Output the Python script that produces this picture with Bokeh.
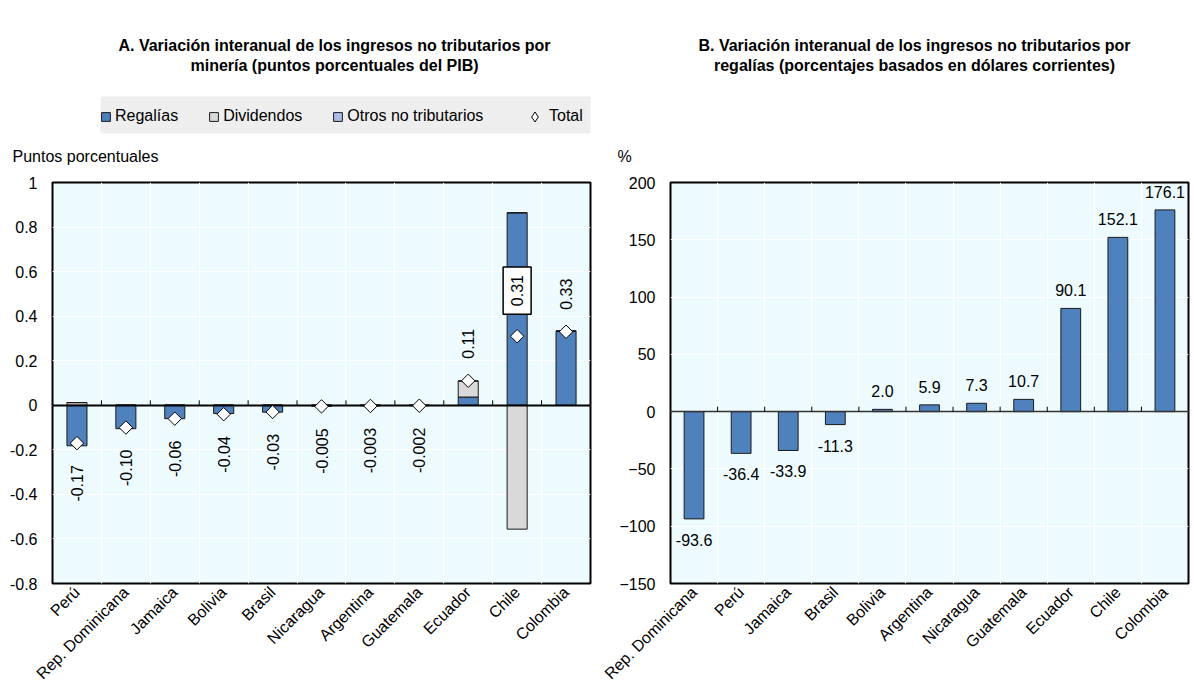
import math
import numpy as np
from bokeh.plotting import figure
from bokeh.models import (Range1d, FixedTicker, Label, Legend, LegendItem,
                          NumeralTickFormatter, BoxAnnotation)
from bokeh.layouts import row, column
from bokeh.embed import file_html
from bokeh.resources import INLINE

FONT = "Liberation Sans"

# ---------------- Panel A data ----------------
cats_a = ["Perú", "Rep. Dominicana", "Jamaica", "Bolivia", "Brasil", "Nicaragua",
          "Argentina", "Guatemala", "Ecuador", "Chile", "Colombia"]
regalias_a = [-0.182, -0.105, -0.060, -0.037, -0.031, -0.005, -0.003, -0.002, 0.037, 0.864, 0.333]
dividendos_a = [0.012, 0.0, 0.0, 0.0, 0.0, 0.0, 0.0, 0.0, 0.072, -0.556, 0.0]
otros_a = [0.0, 0.0, 0.0, 0.0, 0.0, 0.0, 0.0, 0.0, 0.0, 0.0, 0.0]
total_a = [-0.17, -0.10, -0.06, -0.04, -0.03, -0.005, -0.003, -0.002, 0.11, 0.31, 0.33]
total_labels_a = ["-0.17", "-0.10", "-0.06", "-0.04", "-0.03", "-0.005", "-0.003",
                  "-0.002", "0.11", "0.31", "0.33"]
yticks_a = [-0.8, -0.6, -0.4, -0.2, 0, 0.2, 0.4, 0.6, 0.8, 1.0]
series_names_a = ["Regalías", "Dividendos", "Otros no tributarios", "Total"]

# ---------------- Panel B data ----------------
cats_b = ["Rep. Dominicana", "Perú", "Jamaica", "Brasil", "Bolivia", "Argentina",
          "Nicaragua", "Guatemala", "Ecuador", "Chile", "Colombia"]
regalias_b = [-93.6, -36.4, -33.9, -11.3, 2.0, 5.9, 7.3, 10.7, 90.1, 152.1, 176.1]
yticks_b = [-150, -100, -50, 0, 50, 100, 150, 200]

title_a = ["A. Variación interanual de los ingresos no tributarios por",
           "minería (puntos porcentuales del PIB)"]
title_b = ["B. Variación interanual de los ingresos no tributarios por",
           "regalías (porcentajes basados en dólares corrientes)"]
unit_a = "Puntos porcentuales"
unit_b = "%"

BLUE = "#4f81bd"
GREY = "#d9d9d9"
LBLUE = "#a9bde6"
BG = "#eefbfe"
EDGE = "#1a1a1a"
LEG_BG = "#eeeeee"

HEAD_H = 176
FRAME_H = 401
TOP = 6


def header(width):
    h = figure(width=width, height=HEAD_H, x_range=Range1d(0, width),
               y_range=Range1d(0, HEAD_H), output_backend="svg",
               toolbar_location=None, min_border=0, frame_align=False,
               x_axis_type=None, y_axis_type=None)
    h.outline_line_color = None
    h.background_fill_color = "white"
    h.border_fill_color = "white"
    h.grid.visible = False
    return h


def head_text(h, x, y_page, txt, align="center", bold=False, size="16px"):
    h.add_layout(Label(x=x, y=HEAD_H - y_page, text=txt, text_align=align,
                       text_baseline="middle", text_font=FONT, text_font_size=size,
                       text_font_style="bold" if bold else "normal",
                       text_color="black"))


def style_legend(lg, glyph):
    lg.background_fill_alpha = 0
    lg.border_line_color = None
    lg.label_text_font = FONT
    lg.label_text_font_size = "16px"
    lg.label_text_color = "black"
    lg.label_height = 34
    lg.glyph_width = glyph
    lg.glyph_height = glyph
    lg.label_standoff = 4
    lg.padding = 4
    lg.margin = 0


def base_fig(cats, yticks, frame_w, left, right):
    n = len(cats)
    p = figure(frame_width=frame_w, frame_height=FRAME_H,
               x_range=Range1d(-0.5, n - 0.5),
               y_range=Range1d(yticks[0], yticks[-1]),
               output_backend="svg", toolbar_location=None, frame_align=False,
               min_border_left=left, min_border_right=right,
               min_border_top=TOP, min_border_bottom=10)
    p.background_fill_color = BG
    p.border_fill_color = "white"
    p.outline_line_color = "black"
    p.outline_line_width = 2
    p.outline_line_alpha = 1

    p.xaxis.ticker = FixedTicker(ticks=list(range(n)))
    p.xaxis.major_label_overrides = {i: c for i, c in enumerate(cats)}
    p.xaxis.major_label_orientation = math.pi / 4
    p.xaxis.major_tick_line_color = None
    p.xaxis.minor_tick_line_color = None
    p.xaxis.axis_line_color = None
    p.xaxis.major_tick_out = 0
    p.xaxis.major_tick_in = 0
    p.xaxis.major_label_standoff = 6
    p.xaxis.major_label_text_font = FONT
    p.xaxis.major_label_text_font_size = "16px"
    p.xaxis.major_label_text_color = "black"

    p.yaxis.ticker = FixedTicker(ticks=yticks)
    p.yaxis.major_tick_line_color = None
    p.yaxis.minor_tick_line_color = None
    p.yaxis.axis_line_color = None
    p.yaxis.major_tick_out = 0
    p.yaxis.major_tick_in = 0
    p.yaxis.major_label_standoff = 15
    p.yaxis.major_label_text_font = FONT
    p.yaxis.major_label_text_font_size = "16px"
    p.yaxis.major_label_text_color = "black"

    p.xgrid.ticker = FixedTicker(ticks=[i + 0.5 for i in range(n - 1)])
    p.xgrid.grid_line_color = "white"
    p.xgrid.grid_line_width = 1
    p.ygrid.grid_line_color = "white"
    p.ygrid.grid_line_width = 1

    yr = yticks[-1] - yticks[0]
    tick_len = 5 * yr / FRAME_H
    bnds = [i + 0.5 for i in range(n - 1)]
    return p, bnds, tick_len


# ================= Panel A =================
n = len(cats_a)
xs = list(range(n))
pa, bnds_a, tl_a = base_fig(cats_a, yticks_a, 538, 52, 10)
pa.yaxis.formatter = NumeralTickFormatter(format="0.[0]")

pos_base = [0.0] * n
neg_base = [0.0] * n
bar_styles = [(regalias_a, BLUE), (dividendos_a, GREY), (otros_a, LBLUE)]
for vals, color in bar_styles:
    bottoms, tops = [], []
    for i, v in enumerate(vals):
        if v >= 0:
            b = pos_base[i]
            t = b + v
            pos_base[i] = t
        else:
            b = neg_base[i]
            t = b + v
            neg_base[i] = t
        bottoms.append(b)
        tops.append(t)
    pa.vbar(x=xs, bottom=bottoms, top=tops, width=0.41, fill_color=color,
            line_color=EDGE, line_width=1)

pa.hspan(y=[0], line_color="black", line_width=2)
pa.segment(x0=bnds_a, y0=[0] * len(bnds_a), x1=bnds_a, y1=[tl_a] * len(bnds_a),
           line_color="black", line_width=1)
pa.scatter(x=xs, y=total_a, marker="square", angle=math.pi / 4, size=9.5,
           fill_color="white", line_color="black", line_width=1)

for i, (v, txt) in enumerate(zip(total_a, total_labels_a)):
    boxed = cats_a[i] == "Chile"
    if v < 0:
        lab = Label(x=i, y=v, text=txt, angle=math.pi / 2, text_align="right",
                    text_baseline="middle", y_offset=-22)
    else:
        lab = Label(x=i, y=v, text=txt, angle=math.pi / 2, text_align="left",
                    text_baseline="middle", y_offset=22)
    lab.text_font = FONT
    lab.text_font_size = "16px"
    lab.text_color = "black"
    if boxed:
        lab.background_fill_color = "white"
        lab.border_line_color = "black"
        lab.border_line_width = 1.5
        lab.padding = 8
    pa.add_layout(lab)

# header A: titles, legend, unit label
ha = header(600)
head_text(ha, 334, 45, title_a[0], bold=True)
head_text(ha, 334, 65, title_a[1], bold=True)
head_text(ha, 12, 156, unit_a, align="left", size="16px")

# grey legend box (layout decoration)
ha.add_layout(BoxAnnotation(left=100, right=590, bottom=HEAD_H - 133, top=HEAD_H - 96,
                            fill_color=LEG_BG, fill_alpha=1, line_color=None))

# legend proxies: one NaN point each (nothing drawn), style only
nan1 = np.array([np.nan])
leg_r = [
    ha.vbar(x=nan1, top=nan1, width=1, fill_color=BLUE, line_color=EDGE, line_width=1),
    ha.vbar(x=nan1, top=nan1, width=1, fill_color=GREY, line_color=EDGE, line_width=1),
    ha.vbar(x=nan1, top=nan1, width=1, fill_color=LBLUE, line_color=EDGE, line_width=1),
    ha.scatter(x=nan1, y=nan1, marker="diamond", size=8.5,
               fill_color="white", line_color="black", line_width=1),
]
legend1 = Legend(items=[LegendItem(label=nm, renderers=[r])
                        for nm, r in zip(series_names_a[:3], leg_r[:3])],
                 orientation="horizontal", location=(100, HEAD_H - 133))
style_legend(legend1, 11)
legend1.spacing = 30
ha.add_layout(legend1, "center")

legend2 = Legend(items=[LegendItem(label=series_names_a[3], renderers=[leg_r[3]])],
                 orientation="horizontal", location=(522, HEAD_H - 133))
style_legend(legend2, 25)
legend2.label_standoff = 2
ha.add_layout(legend2, "center")

# ================= Panel B =================
nb = len(cats_b)
xb = list(range(nb))
pb, bnds_b, tl_b = base_fig(cats_b, yticks_b, 518, 70, 4)
pb.vbar(x=xb, bottom=0, top=regalias_b, width=0.42, fill_color=BLUE,
        line_color=EDGE, line_width=1)
pb.hspan(y=[0], line_color="#333333", line_width=1.5)
pb.segment(x0=bnds_b, y0=[0] * len(bnds_b), x1=bnds_b, y1=[tl_b] * len(bnds_b),
           line_color="black", line_width=1)
for i, v in enumerate(regalias_b):
    txt = f"{v:.1f}"
    if v < 0:
        lab = Label(x=i, y=v, text=txt, text_align="center", text_baseline="top",
                    y_offset=-15)
    else:
        lab = Label(x=i, y=v, text=txt, text_align="center", text_baseline="bottom",
                    y_offset=12)
    lab.text_font = FONT
    lab.text_font_size = "16px"
    lab.text_color = "black"
    pb.add_layout(lab)

hb = header(592)
head_text(hb, 314, 45, title_b[0], bold=True)
head_text(hb, 314, 65, title_b[1], bold=True)
head_text(hb, 17, 156, unit_b, align="left", size="16px")

layout = row(column(ha, pa), column(hb, pb))
open("out.html", "w").write(file_html(layout, INLINE))
